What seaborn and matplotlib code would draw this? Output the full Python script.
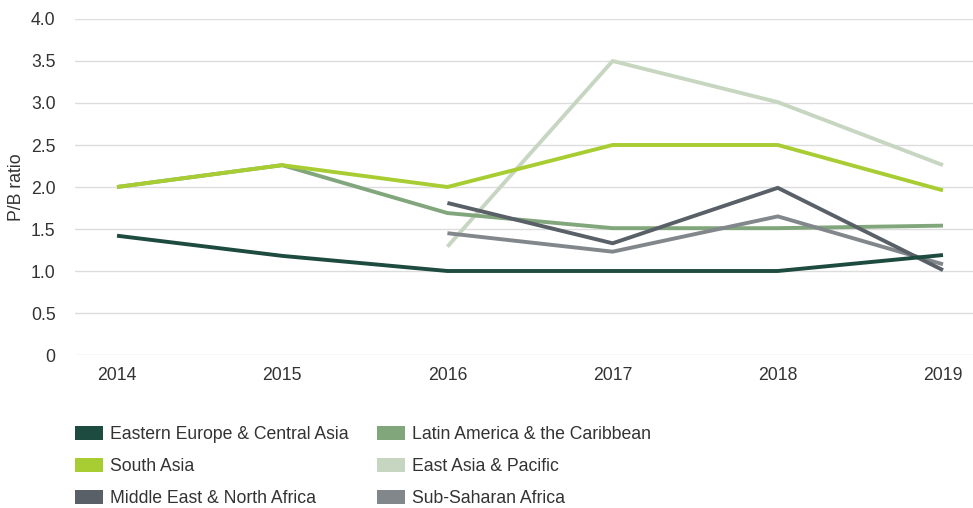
import numpy as np
import pandas as pd
import matplotlib
matplotlib.use("Agg")
import matplotlib.pyplot as plt
from matplotlib.patches import Patch
import seaborn as sns

years = [2014, 2015, 2016, 2017, 2018, 2019]

eastern_europe = [1.42, 1.18, 1.00, 1.00, 1.00, 1.19]
south_asia = [2.00, 2.26, 2.00, 2.50, 2.50, 1.96]
latin_america = [2.00, 2.26, 1.69, 1.51, 1.51, 1.54]
east_asia = [np.nan, np.nan, 1.29, 3.50, 3.01, 2.26]
mena = [np.nan, np.nan, 1.81, 1.33, 1.99, 1.01]
sub_saharan = [np.nan, np.nan, 1.45, 1.23, 1.65, 1.08]

regions = [
    "Eastern Europe & Central Asia",
    "Latin America & the Caribbean",
    "South Asia",
    "East Asia & Pacific",
    "Middle East & North Africa",
    "Sub-Saharan Africa",
]
values = [eastern_europe, latin_america, south_asia, east_asia, mena, sub_saharan]
colors = ["#1e4b3f", "#82a67c", "#a8cd32", "#c6d6c1", "#596067", "#82878c"]
palette = dict(zip(regions, colors))

rows = []
for name, vals in zip(regions, values):
    for y, v in zip(years, vals):
        if not np.isnan(v):
            rows.append({"year": y, "region": name, "pb": v})
df = pd.DataFrame(rows)

sns.set_style("white")
plt.rcParams["font.family"] = ["Liberation Sans", "DejaVu Sans"]
text_color = "#333333"
fs = 12.7

fig = plt.figure(figsize=(9.73, 5.08), dpi=100)
ax = fig.add_axes([75 / 973, 1 - 355 / 508, (973 - 75) / 973, (355 - 19) / 508])

# Draw lines back to front so the lighter series sit underneath
draw_order = [
    "East Asia & Pacific",
    "Latin America & the Caribbean",
    "Sub-Saharan Africa",
    "Middle East & North Africa",
    "South Asia",
    "Eastern Europe & Central Asia",
]
for name in draw_order:
    sub = df[df["region"] == name]
    sns.lineplot(data=sub, x="year", y="pb", color=palette[name], lw=2.8,
                 ax=ax, legend=False, solid_capstyle="butt")

ax.set_xlim(2014 - 42 / 165.2, 2019 + 30 / 165.2)
ax.set_ylim(0, 4.0)
ax.set_yticks(np.arange(0, 4.01, 0.5))
ax.set_yticklabels(["0"] + [f"{v:.1f}" for v in np.arange(0.5, 4.01, 0.5)])
ax.set_xticks(years)
ax.set_xticklabels([str(y) for y in years])
ax.grid(axis="y", color="#dddddd", lw=1)
ax.grid(axis="x", visible=False)
for s in ax.spines.values():
    s.set_visible(False)
ax.tick_params(axis="both", length=0, labelsize=fs, colors=text_color)
ax.tick_params(axis="y", pad=14)
ax.tick_params(axis="x", pad=9)
ax.set_xlabel("")
ax.set_ylabel("P/B ratio", fontsize=fs, color=text_color, labelpad=4)

legend_order = [
    "Eastern Europe & Central Asia",
    "South Asia",
    "Middle East & North Africa",
    "Latin America & the Caribbean",
    "East Asia & Pacific",
    "Sub-Saharan Africa",
]
handles = [Patch(facecolor=palette[n], edgecolor="none", label=n) for n in legend_order]
leg = fig.legend(handles=handles, ncol=2, loc="upper left",
                 bbox_to_anchor=(75 / 973, 1 - 426 / 508), frameon=False,
                 borderpad=0, borderaxespad=0,
                 fontsize=fs, handlelength=1.6, handleheight=0.8,
                 handletextpad=0.4, columnspacing=1.6, labelspacing=0.86)
for t in leg.get_texts():
    t.set_color(text_color)

fig.savefig("out.png", dpi=100)
